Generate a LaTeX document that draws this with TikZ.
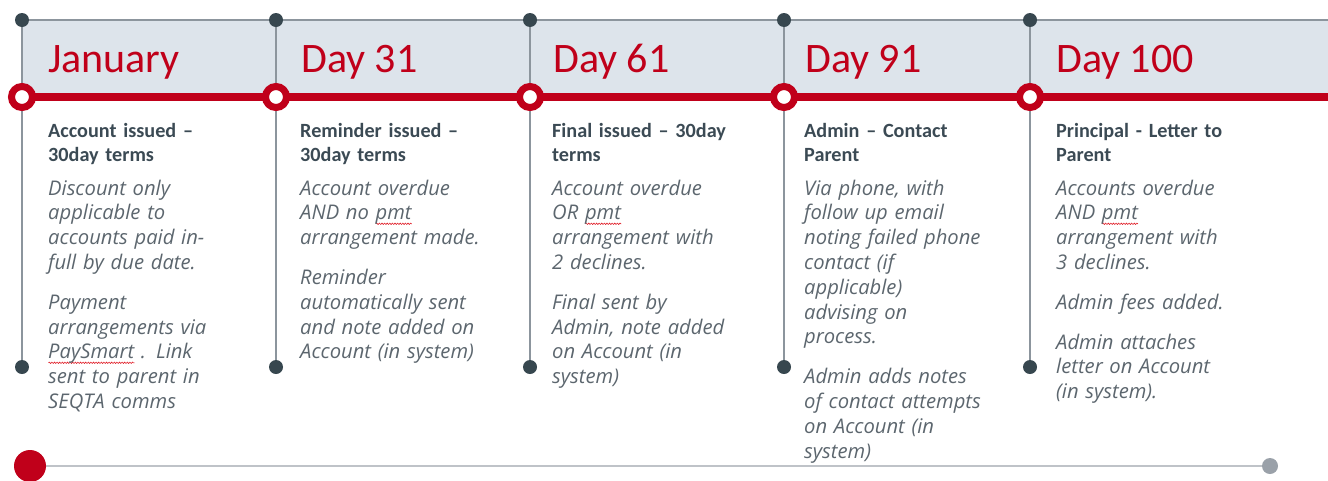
\documentclass[tikz,border=0pt]{standalone}
\usepackage{fontspec}
\setmainfont{Carlito}
\newfontfamily\bodyfont{Open Sans}
\usetikzlibrary{backgrounds,decorations.pathmorphing}
\definecolor{bandc}{HTML}{DDE4EB}
\definecolor{gridc}{HTML}{8C959D}
\definecolor{dotc}{HTML}{37474F}
\definecolor{redc}{HTML}{C0001A}
\definecolor{boldc}{HTML}{3B4A54}
\definecolor{bodyc}{HTML}{5C666E}
\definecolor{blinec}{HTML}{BFC3C8}
\definecolor{bdotc}{HTML}{9AA1A9}
\definecolor{spellc}{HTML}{E0202A}
\newdimen\sqwd
\newcommand\sqw[1]{\leavevmode\settowidth\sqwd{#1}\rlap{\raisebox{-5pt}{\tikz\draw[spellc,line width=0.6pt,decorate,decoration={snake,amplitude=0.7pt,segment length=2.6pt}] (0pt,0pt) -- (\sqwd,0pt);}}#1}
\tikzset{
  topdot/.style={circle,fill=dotc,inner sep=0pt,minimum size=14pt},
  ringnode/.style={circle,draw=redc,line width=7pt,fill=white,inner sep=0pt,minimum size=21pt},
  vline/.style={gridc,line width=2pt},
  redline/.style={redc,line width=8pt},
  title/.style={anchor=base west,inner sep=0pt,text=redc,font=\fontsize{42}{48}\selectfont},
  sub/.style={anchor=base west,inner sep=0pt,text width=250pt,align=left,text=boldc,font=\fontsize{20.2}{24}\selectfont\bfseries},
  body/.style={anchor=base west,inner sep=0pt,text width=250pt,align=left,text=bodyc,font=\bodyfont\itshape\fontsize{20.2}{24.8}\selectfont},
  bigred/.style={circle,fill=redc,inner sep=0pt,minimum size=32pt},
  greydot/.style={circle,fill=bdotc,inner sep=0pt,minimum size=16pt},
  bline/.style={blinec,line width=2pt}
}
\begin{document}
\begin{tikzpicture}[x=1pt,y=-1pt]
\useasboundingbox (0,0) rectangle (1328,480);
\coordinate (tend) at (1328,20);
\coordinate (rend) at (1328,97);
\foreach \i/\x in {1/22,2/276,3/530,4/784,5/1030}{
  \node[topdot] (t\i) at (\x,20) {};
  \node[topdot] (b\i) at (\x,367) {};
  \node[ringnode] (r\i) at (\x,97) {};
}
\begin{pgfonlayer}{background}
  \fill[bandc] (t1.center) rectangle (1328,94);
  \draw[vline] (t1.center) -- (tend);
  \foreach \i in {1,...,5}{\draw[vline] (t\i) -- (b\i);}
  \draw[redline] (r1.center) -- (rend);
\end{pgfonlayer}

\node[title] (h1) at (48,72) {January};
\node[title] (h2) at (301,72) {Day 31};
\node[title] (h3) at (553,72) {Day 61};
\node[title] (h4) at (805,72) {Day 91};
\node[title] (h5) at (1056,72) {Day 100};

\node[sub] (s1) at (48,137) {Account issued –\\30day terms};
\node[sub] (s2) at (300,137) {Reminder issued –\\30day terms};
\node[sub] (s3) at (552,137) {Final issued – 30day\\terms};
\node[sub] (s4) at (804,137) {Admin – Contact\\Parent};
\node[sub] (s5) at (1056,137) {Principal - Letter to\\Parent};

\node[body] (p1) at (48,195) {Discount only\\applicable to\\accounts paid in-\\full by due date.\\[15pt]Payment\\arrangements via\\\sqw{PaySmart} . Link\\sent to parent in\\SEQTA comms};
\node[body] (p2) at (300,195) {Account overdue\\AND no \sqw{pmt}\\arrangement made.\\[15pt]Reminder\\automatically sent\\and note added on\\Account (in system)};
\node[body] (p3) at (552,195) {Account overdue\\OR \sqw{pmt}\\arrangement with\\2 declines.\\[15pt]Final sent by\\Admin, note added\\on Account (in\\system)};
\node[body] (p4) at (804,195) {Via phone, with\\follow up email\\noting failed phone\\contact (if\\applicable)\\advising on\\process.\\[15pt]Admin adds notes\\of contact attempts\\on Account (in\\system)};
\node[body] (p5) at (1056,195) {Accounts overdue\\AND \sqw{pmt}\\arrangement with\\3 declines.\\[15pt]Admin fees added.\\[15pt]Admin attaches\\letter on Account\\(in system).};

\node[bigred] (st) at (30,466) {};
\node[greydot] (en) at (1270,466) {};
\begin{pgfonlayer}{background}
  \draw[bline] (st) -- (en);
\end{pgfonlayer}
\end{tikzpicture}
\end{document}
